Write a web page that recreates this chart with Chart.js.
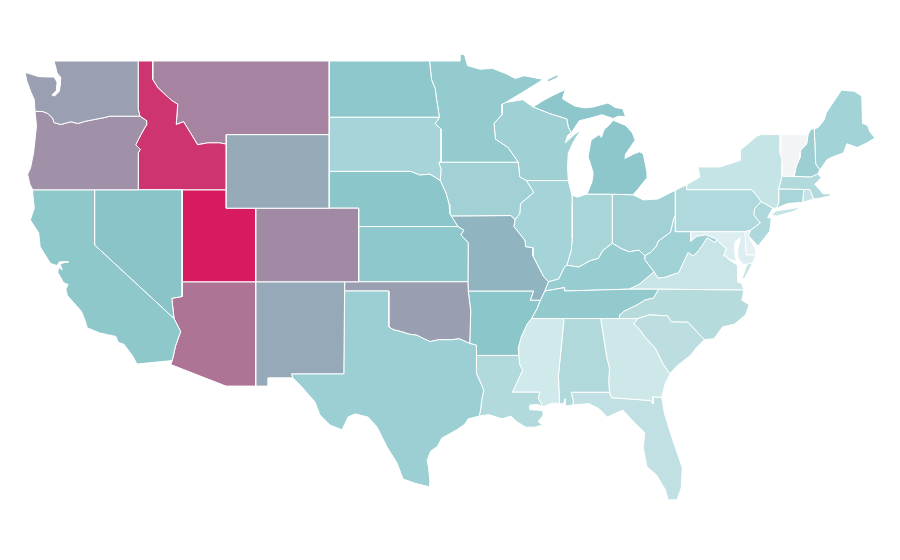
<!DOCTYPE html>
<html>
<head>
<meta charset="utf-8">
<style>html,body{margin:0;padding:0;background:#fff}canvas{display:block}</style>
<script src="https://cdn.jsdelivr.net/npm/chart.js@4"></script>
</head>
<body>
<canvas id="map" width="900" height="560"></canvas>
<script>
// State outlines read as [longitude, latitude] pairs
const WA=[[-124.73,48.38],[-124.6,47.9],[-124.35,47.35],[-124.1,46.9],[-124.05,46.27],[-123.5,46.25],[-123.2,46.15],[-122.85,45.9],[-122.75,45.65],[-122.3,45.55],[-121.6,45.7],[-121.15,45.6],[-120.6,45.73],[-119.95,45.83],[-119.3,45.93],[-118.98,46],[-116.92,46],[-117.04,46.4],[-117.04,49],[-122.76,49],[-122.62,48.6],[-122.55,48.35],[-122.3,48.1],[-122.33,47.7],[-122.4,47.35],[-122.72,47.1],[-122.9,47.15],[-122.6,47.4],[-122.55,47.85],[-122.75,48.13],[-123.15,48.13],[-123.8,48.15],[-124.3,48.28]];
const OR=[[-124.05,46.27],[-123.95,45.5],[-124.05,44.7],[-124.15,44],[-124.35,43.2],[-124.55,42.84],[-124.4,42.3],[-124.2,42],[-117.03,42],[-117.03,44],[-116.9,44.2],[-117.2,44.45],[-116.85,45],[-116.5,45.5],[-116.46,45.75],[-116.92,46],[-118.98,46],[-119.3,45.93],[-119.95,45.83],[-120.6,45.73],[-121.15,45.6],[-121.6,45.7],[-122.3,45.55],[-122.75,45.65],[-122.85,45.9],[-123.2,46.15],[-123.5,46.25]];
const CA=[[-124.2,42],[-120,42],[-120,39],[-114.6,35],[-114.15,34.3],[-114.5,33.5],[-114.72,32.72],[-117.12,32.53],[-117.4,32.95],[-118,33.6],[-118.4,33.72],[-118.55,34.03],[-119.25,34.15],[-119.65,34.22],[-120.5,34.5],[-120.65,34.9],[-120.9,35.4],[-121.85,36.25],[-121.95,36.6],[-121.8,36.85],[-122.1,36.95],[-122.5,37.5],[-122.45,37.8],[-122.2,37.65],[-122.35,37.95],[-122.05,38.05],[-121.75,38.08],[-122.05,38.1],[-122.4,38.08],[-122.55,37.88],[-123,38],[-123.7,38.9],[-123.8,39.65],[-124.37,40.36],[-124.1,41],[-124.2,41.75]];
const NV=[[-120,42],[-114.05,42],[-114.05,36.2],[-114.75,36.1],[-114.6,35],[-120,39]];
const ID=[[-117.04,49],[-116.05,49],[-116.05,48],[-115.7,47.55],[-115.3,47.25],[-114.75,46.85],[-114.35,46.65],[-114.45,45.55],[-113.95,45.7],[-113.45,45.05],[-113,44.45],[-112.3,44.55],[-111.5,44.55],[-111.05,44.48],[-111.05,42],[-117.03,42],[-117.03,44],[-116.9,44.2],[-117.2,44.45],[-116.85,45],[-116.5,45.5],[-116.46,45.75],[-116.92,46],[-117.04,46.4]];
const MT=[[-116.05,49],[-104.05,49],[-104.05,45],[-111.05,45],[-111.05,44.48],[-111.5,44.55],[-112.3,44.55],[-113,44.45],[-113.45,45.05],[-113.95,45.7],[-114.45,45.55],[-114.35,46.65],[-114.75,46.85],[-115.3,47.25],[-115.7,47.55],[-116.05,48]];
const WY=[[-111.05,45],[-104.05,45],[-104.05,41],[-111.05,41]];
const UT=[[-114.05,42],[-111.05,42],[-111.05,41],[-109.05,41],[-109.05,37],[-114.05,37]];
const CO=[[-109.05,41],[-102.05,41],[-102.05,37],[-109.05,37]];
const AZ=[[-114.05,37],[-109.05,37],[-109.05,31.33],[-111.07,31.33],[-114.82,32.5],[-114.72,32.72],[-114.5,33.5],[-114.15,34.3],[-114.6,35],[-114.75,36.1],[-114.05,36.2]];
const NM=[[-109.05,37],[-103,37],[-103.06,32],[-106.62,32],[-106.53,31.78],[-108.2,31.78],[-108.2,31.33],[-109.05,31.33]];
const TX=[[-106.62,32],[-103.06,32],[-103,36.5],[-100,36.5],[-100,34.56],[-99.7,34.4],[-99.2,34.3],[-98.6,34.15],[-98.1,34.1],[-97.6,33.9],[-97.2,33.75],[-96.6,33.85],[-95.8,33.85],[-95.2,33.9],[-94.5,33.65],[-94.04,33.55],[-94.04,33],[-94.04,32],[-93.75,31.5],[-93.55,31.1],[-93.7,30.5],[-93.75,30.1],[-93.85,29.7],[-94.6,29.55],[-94.85,29.25],[-95.4,28.95],[-96.4,28.5],[-96.7,28.05],[-97.15,27.8],[-97.4,27.3],[-97.3,26.9],[-97.2,26.1],[-97.2,25.85],[-98.2,26.05],[-99.03,26.28],[-99.44,27.15],[-100.12,28.02],[-100.8,29.11],[-101.41,29.65],[-102.3,29.82],[-102.77,29.65],[-103.18,28.95],[-104,29.22],[-104.68,29.76],[-105.02,30.47],[-106.04,31.4],[-106.53,31.78]];
const OK=[[-103,37],[-94.62,37],[-94.6,36.5],[-94.43,35.4],[-94.5,33.65],[-95.2,33.9],[-95.8,33.85],[-96.6,33.85],[-97.2,33.75],[-97.6,33.9],[-98.1,34.1],[-98.6,34.15],[-99.2,34.3],[-99.7,34.4],[-100,34.56],[-100,36.5],[-103,36.5]];
const KS=[[-102.05,40],[-95.3,40],[-94.9,39.8],[-95.1,39.55],[-94.6,39.12],[-94.62,37],[-102.05,37]];
const NE=[[-104.05,43],[-98.5,43],[-97.9,42.8],[-97.2,42.85],[-96.5,42.5],[-96.1,41.8],[-95.9,41.2],[-95.85,40.7],[-95.3,40],[-102.05,40],[-102.05,41],[-104.05,41]];
const SD=[[-104.05,45.94],[-96.56,45.94],[-96.85,45.6],[-96.45,45.3],[-96.45,43.5],[-96.6,43.5],[-96.45,43.1],[-96.5,42.5],[-97.2,42.85],[-97.9,42.8],[-98.5,43],[-104.05,43]];
const ND=[[-104.05,49],[-97.23,49],[-97.1,48],[-96.85,47.5],[-96.75,46.9],[-96.56,45.94],[-104.05,45.94]];
const MN=[[-97.23,49],[-95.15,49],[-95.15,49.38],[-94.85,49.33],[-94.65,48.75],[-93.8,48.55],[-92.95,48.6],[-92,48.3],[-91.4,48.05],[-90.8,48.2],[-89.5,48],[-90.9,47.3],[-92.05,46.75],[-92.3,46.65],[-92.3,46.1],[-92.85,45.6],[-92.75,44.75],[-91.9,44.3],[-91.2,43.5],[-96.45,43.5],[-96.45,45.3],[-96.85,45.6],[-96.56,45.94],[-96.75,46.9],[-96.85,47.5],[-97.1,48]];
const IA=[[-96.45,43.5],[-91.2,43.5],[-91.1,42.7],[-90.65,42.5],[-90.15,41.85],[-91.05,41.25],[-91.1,40.7],[-91.42,40.38],[-91.7,40.6],[-95.77,40.58],[-95.85,40.7],[-95.9,41.2],[-96.1,41.8],[-96.5,42.5],[-96.45,43.1],[-96.6,43.5]];
const MO=[[-95.77,40.58],[-91.7,40.6],[-91.42,40.38],[-91.5,40],[-90.75,39.25],[-90.7,38.9],[-90.2,38.85],[-90.2,38.4],[-89.5,37.3],[-89.15,37],[-89.4,36.5],[-89.7,36],[-90.37,36],[-90.15,36.5],[-94.6,36.5],[-94.62,37],[-94.6,39.12],[-95.1,39.55],[-94.9,39.8],[-95.3,40]];
const AR=[[-94.6,36.5],[-90.15,36.5],[-90.37,36],[-89.7,36],[-89.95,35.5],[-90.3,35],[-90.6,34.7],[-91,34],[-91.2,33.4],[-91.17,33],[-94.04,33],[-94.04,33.55],[-94.5,33.65],[-94.43,35.4]];
const LA=[[-94.04,33],[-91.17,33],[-91.1,32.5],[-90.9,32.2],[-91.6,31],[-89.73,31],[-89.85,30.7],[-89.55,30.2],[-89.85,30.33],[-90.4,30.3],[-90.4,30.05],[-89.95,30.03],[-89.55,30],[-89.5,29.76],[-89.85,29.4],[-89.18,29],[-89.6,29.2],[-90.1,29.1],[-90.7,29.1],[-91.3,29.4],[-91.7,29.7],[-92.3,29.55],[-93.2,29.78],[-93.85,29.7],[-93.75,30.1],[-93.7,30.5],[-93.55,31.1],[-93.75,31.5],[-94.04,32]];
const MS=[[-90.3,35],[-88.2,35],[-88.1,34.9],[-88.47,31.9],[-88.4,30.4],[-88.9,30.4],[-89.55,30.2],[-89.85,30.7],[-89.73,31],[-91.6,31],[-90.9,32.2],[-91.1,32.5],[-91.17,33],[-91.2,33.4],[-91,34],[-90.6,34.7]];
const AL=[[-88.2,35],[-85.6,35],[-85.18,32.87],[-85,32.3],[-85.05,31.55],[-85,31],[-87.6,31],[-87.45,30.5],[-87.5,30.3],[-88,30.25],[-88,30.65],[-88.15,30.35],[-88.4,30.4],[-88.47,31.9],[-88.1,34.9]];
const GA=[[-85.6,35],[-83.1,35],[-83.35,34.7],[-83,34.45],[-82.55,33.95],[-81.9,33.4],[-81.4,32.6],[-81,32.1],[-80.85,32.03],[-81.2,31.5],[-81.45,30.72],[-82.05,30.75],[-82.05,30.36],[-82.2,30.55],[-84.86,30.7],[-85,31],[-85.05,31.55],[-85,32.3],[-85.18,32.87]];
const FL=[[-87.6,31],[-85,31],[-84.86,30.7],[-82.2,30.55],[-82.05,30.36],[-82.05,30.75],[-81.45,30.72],[-81.25,29.8],[-80.7,28.4],[-80.05,26.9],[-80.12,25.8],[-80.4,25.15],[-81,25.15],[-81.2,25.7],[-81.8,26.5],[-82.45,26.95],[-82.7,27.97],[-82.6,28.8],[-83.25,29.3],[-84.1,30.03],[-85.15,29.65],[-85.7,30.1],[-86.4,30.38],[-87.5,30.3],[-87.45,30.5]];
const SC=[[-83.1,35],[-82.3,35.2],[-81.05,35.15],[-80.8,34.82],[-79.67,34.8],[-78.55,33.86],[-79.1,33.4],[-79.5,33],[-80.45,32.4],[-80.85,32.03],[-81,32.1],[-81.4,32.6],[-81.9,33.4],[-82.55,33.95],[-83,34.45],[-83.35,34.7]];
const NC=[[-84.32,35],[-83.1,35],[-82.3,35.2],[-81.05,35.15],[-80.8,34.82],[-79.67,34.8],[-78.55,33.86],[-77.9,33.9],[-77.3,34.55],[-76.5,34.7],[-75.75,35.2],[-75.5,35.75],[-76,36],[-75.87,36.55],[-81.65,36.6],[-82,36.12],[-82.6,36],[-83.1,35.75],[-84,35.4],[-84.3,35.2]];
const TN=[[-90.3,35],[-88.2,35],[-85.6,35],[-84.32,35],[-84.3,35.2],[-84,35.4],[-83.1,35.75],[-82.6,36],[-82,36.12],[-81.65,36.6],[-83.68,36.6],[-88.05,36.5],[-88.07,36.68],[-89.4,36.5],[-89.7,36],[-89.95,35.5]];
const KY=[[-89.4,36.5],[-88.07,36.68],[-88.05,36.5],[-83.68,36.6],[-83,36.85],[-81.97,37.54],[-82.6,38.2],[-82.6,38.42],[-83,38.72],[-83.65,38.63],[-84.2,38.8],[-84.8,39.1],[-85.45,38.7],[-85.75,38.27],[-86.3,38.15],[-87.1,37.8],[-87.9,37.9],[-88.05,37.8],[-88.45,37.15],[-89.15,37]];
const IL=[[-90.65,42.5],[-87.8,42.5],[-87.55,41.7],[-87.53,41.2],[-87.53,39.35],[-87.6,38.7],[-87.9,37.9],[-88.05,37.8],[-88.45,37.15],[-89.15,37],[-89.5,37.3],[-90.2,38.4],[-90.2,38.85],[-90.7,38.9],[-90.75,39.25],[-91.5,40],[-91.42,40.38],[-91.1,40.7],[-91.05,41.25],[-90.15,41.85]];
const WI=[[-92.05,46.75],[-92.3,46.65],[-92.3,46.1],[-92.85,45.6],[-92.75,44.75],[-91.9,44.3],[-91.2,43.5],[-91.1,42.7],[-90.65,42.5],[-87.8,42.5],[-87.85,43.25],[-87.8,44],[-87.45,44.6],[-86.95,45.25],[-87.4,45],[-88,44.55],[-87.85,44.95],[-87.6,45.1],[-87.8,45.4],[-87.9,45.85],[-89.1,46.15],[-90.2,46.5],[-90.9,46.9],[-91.25,46.85]];
const MI_UPPER=[[-90.2,46.5],[-89.1,46.15],[-87.9,45.85],[-87.8,45.4],[-87.6,45.1],[-87.05,45.75],[-86.3,45.9],[-85.5,46.08],[-84.75,45.87],[-84.4,46],[-83.9,45.97],[-84.1,46.4],[-84.6,46.47],[-85.1,46.72],[-86.1,46.5],[-86.7,46.45],[-87.35,46.55],[-88.2,46.95],[-88,47.45],[-88.8,47.15],[-89.5,46.85]];
const MI_LOWER=[[-86.53,41.77],[-84.8,41.76],[-83.4,41.73],[-83.1,42],[-82.5,42.6],[-82.45,42.95],[-82.7,43.95],[-82.95,44.07],[-83.35,43.95],[-83.95,43.7],[-83.9,43.95],[-83.25,44.7],[-83.45,45.1],[-83.9,45.5],[-84.75,45.78],[-85.1,45.45],[-85.35,45.3],[-85.55,44.85],[-85.7,45],[-86.25,44.7],[-86.45,43.8],[-86.1,42.9],[-86.2,42.4]];
const MI_ISLE=[[-89.15,47.9],[-88.5,48.15],[-88.55,48.22],[-89.2,47.97]];
const IN=[[-87.53,41.72],[-87.2,41.6],[-86.53,41.77],[-84.8,41.76],[-84.8,39.1],[-85.45,38.7],[-85.75,38.27],[-86.3,38.15],[-87.1,37.8],[-87.9,37.9],[-87.6,38.7],[-87.53,39.35],[-87.53,41.2]];
const OH=[[-84.8,41.76],[-83.4,41.73],[-82.7,41.45],[-81.7,41.5],[-80.52,41.98],[-80.52,40.64],[-80.65,40.4],[-80.85,39.7],[-81.7,39.2],[-81.8,38.95],[-82.2,38.6],[-82.6,38.42],[-83,38.72],[-83.65,38.63],[-84.2,38.8],[-84.8,39.1]];
const WV=[[-80.52,40.64],[-80.52,39.72],[-79.48,39.72],[-79.48,39.2],[-79.05,39.47],[-78.45,39.55],[-77.72,39.32],[-77.83,39.13],[-78.35,39.4],[-78.87,38.77],[-79.3,38.4],[-79.65,38.6],[-80.3,37.5],[-81.23,37.25],[-81.7,37.2],[-81.97,37.54],[-82.6,38.2],[-82.6,38.42],[-82.2,38.6],[-81.8,38.95],[-81.7,39.2],[-80.85,39.7],[-80.65,40.4]];
const VA=[[-83.68,36.6],[-81.65,36.6],[-75.87,36.55],[-76,36.9],[-76.3,37],[-76.3,37.55],[-76.3,37.9],[-76.95,38.25],[-77.05,38.4],[-77.25,38.4],[-77.05,38.8],[-77.5,39.1],[-77.72,39.32],[-77.83,39.13],[-78.35,39.4],[-78.87,38.77],[-79.3,38.4],[-79.65,38.6],[-80.3,37.5],[-81.23,37.25],[-81.7,37.2],[-81.97,37.54],[-83,36.85]];
const VA_SHORE=[[-75.65,37.95],[-75.25,38.03],[-75.85,37.15],[-75.98,37.2]];
const MD=[[-79.48,39.72],[-75.79,39.72],[-75.7,38.46],[-75.05,38.45],[-75.25,38.03],[-75.65,37.95],[-75.95,37.95],[-76.25,38.3],[-76.3,38.7],[-76.2,39],[-76.1,39.4],[-76.45,39.2],[-76.5,38.9],[-76.45,38.4],[-76.35,38.1],[-76.95,38.25],[-77.05,38.4],[-77.25,38.4],[-77.05,38.8],[-77.5,39.1],[-77.72,39.32],[-78.45,39.55],[-79.05,39.47],[-79.48,39.2]];
const DE=[[-75.79,39.72],[-75.42,39.8],[-75.55,39.5],[-75.1,38.8],[-75.05,38.45],[-75.7,38.46]];
const PA=[[-80.52,41.98],[-79.76,42.27],[-79.76,42],[-75.35,42],[-75.05,41.75],[-74.7,41.36],[-75.13,40.98],[-75.2,40.65],[-74.75,40.2],[-75.42,39.8],[-75.79,39.72],[-80.52,39.72]];
const NJ=[[-74.7,41.36],[-73.9,41],[-74.25,40.5],[-74,40.45],[-74.1,39.75],[-74.9,38.95],[-75.55,39.5],[-75.42,39.8],[-74.75,40.2],[-75.2,40.65],[-75.13,40.98]];
const NY=[[-79.76,42],[-79.76,42.27],[-78.85,42.7],[-78.98,43.24],[-77.5,43.24],[-76.1,43.6],[-76.1,44.16],[-74.97,44.92],[-74.7,45],[-73.35,45],[-73.4,44],[-73.25,43.55],[-73.27,42.75],[-73.5,42.05],[-73.5,41.3],[-73.65,41],[-73.9,41],[-74.7,41.36],[-75.05,41.75],[-75.35,42]];
const NY_LI=[[-74,40.6],[-73.7,40.85],[-72.6,40.98],[-71.9,41.07],[-72.5,40.82],[-73.6,40.58]];
const VT=[[-73.35,45],[-71.5,45],[-71.6,44.5],[-72.05,44.1],[-72.05,43.75],[-72.3,43.3],[-72.45,42.73],[-73.27,42.75],[-73.25,43.55],[-73.4,44]];
const NH=[[-71.5,45],[-71.3,45.3],[-71.08,45.3],[-70.98,43.4],[-70.7,43.07],[-70.85,42.87],[-71.3,42.7],[-72.45,42.73],[-72.3,43.3],[-72.05,43.75],[-72.05,44.1],[-71.6,44.5]];
const ME=[[-71.08,45.3],[-70.8,45.4],[-70.4,45.8],[-70.25,46.2],[-70,46.5],[-69.23,47.42],[-69,47.4],[-68.35,47.35],[-67.85,47.1],[-67.8,45.6],[-67.45,45.5],[-67.3,45.15],[-66.95,44.82],[-67.5,44.55],[-68.15,44.3],[-68.85,44.5],[-69.1,44],[-69.8,43.8],[-70.2,43.65],[-70.7,43.07],[-70.98,43.4]];
const MA=[[-73.5,42.05],[-73.27,42.75],[-72.45,42.73],[-71.3,42.7],[-70.85,42.87],[-70.6,42.65],[-71.05,42.3],[-70.65,41.95],[-70.5,41.78],[-70,41.78],[-69.95,41.68],[-70.65,41.55],[-71.12,41.5],[-71.38,42.02],[-71.8,42.02],[-72.8,42.04]];
const RI=[[-71.8,42.02],[-71.38,42.02],[-71.12,41.5],[-71.85,41.32]];
const CT=[[-73.5,42.05],[-71.8,42.02],[-71.85,41.32],[-72.9,41.25],[-73.65,41],[-73.5,41.3]];

const stateNames=['Washington','Oregon','California','Nevada','Idaho','Montana','Wyoming','Utah','Colorado','Arizona','New Mexico','Texas','Oklahoma','Kansas','Nebraska','South Dakota','North Dakota','Minnesota','Iowa','Missouri','Arkansas','Louisiana','Mississippi','Alabama','Georgia','Florida','South Carolina','North Carolina','Tennessee','Kentucky','Illinois','Wisconsin','Michigan','Michigan','Michigan','Indiana','Ohio','West Virginia','Virginia','Virginia','Maryland','Delaware','Pennsylvania','New Jersey','New York','New York','Vermont','New Hampshire','Maine','Massachusetts','Rhode Island','Connecticut'];
const stateOutlines=[WA,OR,CA,NV,ID,MT,WY,UT,CO,AZ,NM,TX,OK,KS,NE,SD,ND,MN,IA,MO,AR,LA,MS,AL,GA,FL,SC,NC,TN,KY,IL,WI,MI_UPPER,MI_LOWER,MI_ISLE,IN,OH,WV,VA,VA_SHORE,MD,DE,PA,NJ,NY,NY_LI,VT,NH,ME,MA,RI,CT];
const stateFills=['#9aa0b1','#a091a9','#8ec8cb','#8ac3c8','#cd3470','#a683a0','#96aab8','#d81b60','#a18ba4','#ae7496','#95a9b8','#9bcfd3','#9a9eb1','#8ec8cc','#8ac6ca','#a6d4d8','#8fc8cc','#94cbcf','#a1d1d5','#90b4c0','#8bc7ca','#b2dadc','#d0e9eb','#b1d9db','#cee8ea','#c0e0e3','#bcdee0','#b5dbdd','#93cace','#97cdd1','#a5d4d8','#9fd0d4','#8dc7cc','#8dc7cc','#8dc7cc','#a8d5d8','#a1d1d5','#a0d1d4','#c8e4e6','#c8e4e6','#dceef1','#e3f1f3','#afd9dc','#aed8db','#c5e4e6','#c5e4e6','#f3f4f6','#9cced2','#a2d3d6','#b2d9dc','#c5e3e6','#a8d5d8'];
const lonRange=[-126.43,-65.25];
const latRange=[21.88,52.315];

new Chart(document.getElementById('map'),{
  type:'scatter',
  data:{datasets:stateOutlines.map((outline,i)=>({
    label:stateNames[i],
    data:outline.concat([outline[0]]).map(p=>({x:p[0],y:p[1]})),
    showLine:true,
    fill:'shape',
    tension:0,
    backgroundColor:stateFills[i],
    borderColor:'#ffffff',
    borderWidth:outline===MI_ISLE?0:1,
    borderJoinStyle:'round',
    pointRadius:0,
    pointHoverRadius:0
  }))},
  options:{
    responsive:false,
    animation:false,
    layout:{padding:0},
    plugins:{legend:{display:false},tooltip:{enabled:false},title:{display:false}},
    scales:{
      x:{type:'linear',min:lonRange[0],max:lonRange[1],display:false},
      y:{type:'linear',min:latRange[0],max:latRange[1],display:false}
    }
  }
});
</script>
</body>
</html>
